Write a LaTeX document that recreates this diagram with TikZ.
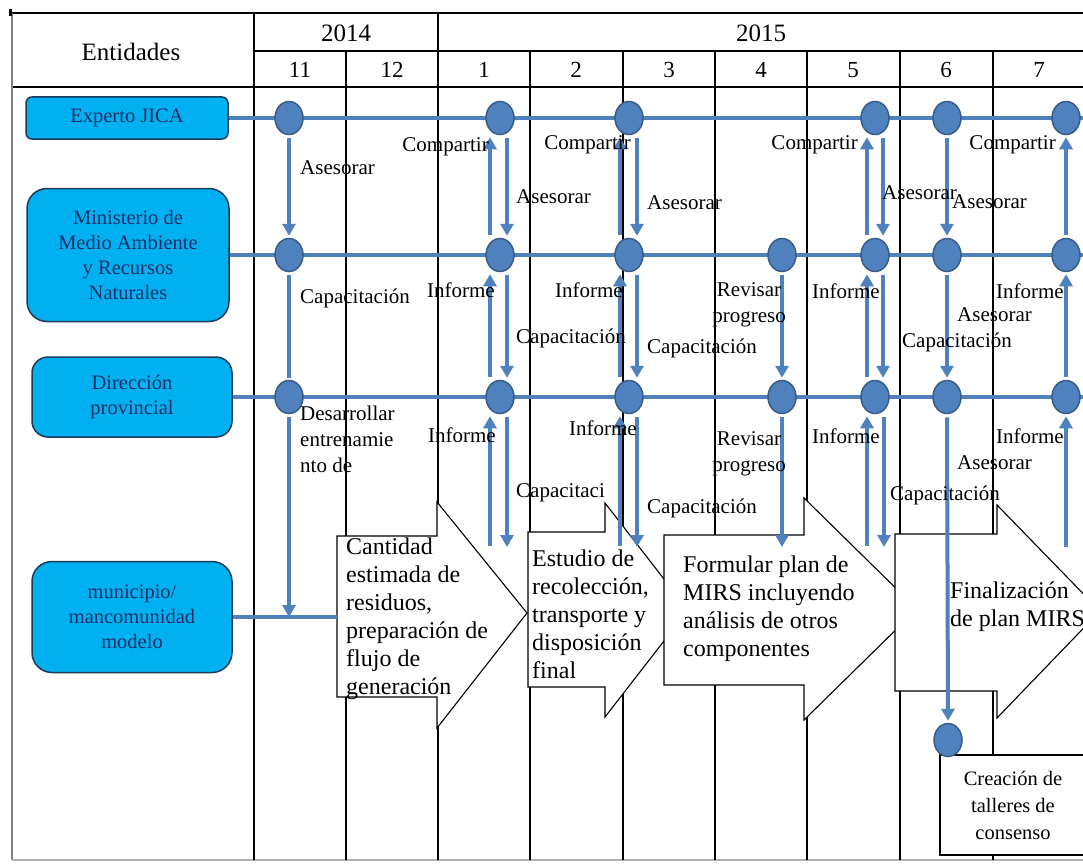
\documentclass[tikz,border=0pt]{standalone}
\usepackage{fontspec}
\setmainfont{LiberationSerif}[Extension=.ttf, UprightFont=*-Regular, ItalicFont=*-Italic, BoldFont=*-Bold, BoldItalicFont=*-BoldItalic]
\usetikzlibrary{arrows.meta,shapes.geometric,calc}
\definecolor{blueline}{HTML}{4F81BD}
\definecolor{nodefill}{HTML}{4F81BD}
\definecolor{nodeborder}{HTML}{385D8A}
\definecolor{entfill}{HTML}{00B0F0}
\definecolor{entborder}{HTML}{1F3B5A}
\definecolor{enttext}{HTML}{1F2F6A}
\newcommand\myLbl{\fontsize{21}{25}\selectfont}
\newcommand\myHdr{\fontsize{25}{30}\selectfont}
\newcommand\myMon{\fontsize{23}{28}\selectfont}
\newcommand\myEnt{\fontsize{20.5}{25}\selectfont}
\newcommand\myArr{\fontsize{24}{28}\selectfont}
\newcommand\myCre{\fontsize{20.5}{27}\selectfont}
\tikzset{
  gridline/.style={line width=1.1pt, draw=black},
  rowline/.style={line width=4pt, draw=blueline},
  ev/.style={ellipse, minimum width=28pt, minimum height=33pt, inner sep=0pt, fill=nodefill, draw=nodeborder, line width=1.5pt},
  flow/.style={line width=4pt, draw=blueline, -{Triangle[width=13pt,length=12pt]}, shorten <=3pt, shorten >=2pt},
  plainv/.style={line width=4pt, draw=blueline, shorten <=3pt, shorten >=2pt},
  lbl/.style={font=\myLbl, inner sep=0pt},
  hdr/.style={font=\myHdr, inner sep=0pt},
  mon/.style={font=\myMon, inner sep=0pt},
  ent/.style={draw=entborder, fill=entfill, line width=1.5pt, text=enttext, font=\myEnt, align=center, inner sep=0pt},
  callout/.style={draw=black, fill=white, line width=1.1pt},
  ctext/.style={font=\myArr, align=left, anchor=north west, inner sep=0pt},
  crebox/.style={draw=black, fill=white, line width=1.1pt, font=\myCre, align=center, inner sep=0pt}
}
\begin{document}
\begin{tikzpicture}[x=1pt,y=-1pt]
\useasboundingbox (0,0) rectangle (1083,864);
\clip (0,0) rectangle (1083,864);

% ---------- table grid ----------
\draw[gridline] (11,13) -- (1090,13);
\draw[gridline] (254,51) -- (1090,51);
\draw[gridline] (12,87) -- (1090,87);
\draw[line width=1.1pt, draw=gray] (12,13) -- (12,860);
\draw[line width=1.1pt, draw=gray!60] (12,860) -- (1090,860);
\draw[gridline] (254,13) -- (254,860);
\draw[gridline] (438,13) -- (438,860);
\foreach \x in {346,530,623,715,807,900,993} \draw[gridline] (\x,51) -- (\x,860);
\draw[line width=2.2pt] (10.5,9) -- (10.5,16);

% ---------- headers ----------
\node[hdr] (hEnt) at (131,52) {Entidades};
\node[hdr] (h2014) at (346,33) {2014};
\node[hdr] (h2015) at (761,33) {2015};
\node[mon] (m-11) at (300,70) {11};
\node[mon] (m-12) at (392,70) {12};
\node[mon] (m-1) at (484,70) {1};
\node[mon] (m-2) at (576,70) {2};
\node[mon] (m-3) at (669,70) {3};
\node[mon] (m-4) at (761,70) {4};
\node[mon] (m-5) at (853,70) {5};
\node[mon] (m-6) at (946,70) {6};
\node[mon] (m-7) at (1039,70) {7};

% ---------- callout arrows ----------
\draw[callout] (337,536) -- (437,536) -- (437,502) -- (527,613) -- (437,728) -- (437,697) -- (337,697) -- cycle;
\node[ctext] (t1) at (346,538) {Cantidad\\estimada de\\residuos,\\preparación de\\flujo de\\generación};
\draw[callout] (528,532) -- (605,532) -- (605,503) -- (688,610) -- (605,717) -- (605,687) -- (528,687) -- cycle;
\node[ctext] (t2) at (532,550) {Estudio de\\recolección,\\transporte y\\disposición\\final};
\draw[callout] (664,535) -- (804,535) -- (804,498) -- (917,609) -- (804,720) -- (804,685) -- (664,685) -- cycle;
\node[ctext] (t3) at (683,556) {Formular plan de\\MIRS incluyendo\\análisis de otros\\componentes};
\draw[callout] (895,534) -- (997,534) -- (997,505) -- (1100,611) -- (997,718) -- (997,691) -- (895,691) -- cycle;
\node[ctext] (t4) at (950,582) {Finalización\\de plan MIRS};
\node[crebox, minimum width=146pt, minimum height=100pt] (crea) at (1013,805) {Creación de\\talleres de\\consenso};

% ---------- entity boxes ----------
\node[ent, minimum width=202pt, minimum height=42pt, rounded corners=6pt] (ejica) at (127,118) {Experto JICA};
\node[ent, minimum width=202pt, minimum height=133pt, rounded corners=20pt] (emin) at (128,255) {Ministerio de\\Medio Ambiente\\y Recursos\\Naturales};
\node[ent, minimum width=200pt, minimum height=80pt, rounded corners=16pt] (edir) at (132,397) {Dirección\\provincial};
\node[ent, minimum width=200pt, minimum height=111pt, rounded corners=20pt] (emun) at (132,617) {municipio/\\mancomunidad\\modelo};

% ---------- row lines ----------
\coordinate (jend) at (1090,118);
\coordinate (mend) at (1090,255);
\coordinate (dend) at (1090,397);
\coordinate (a1w) at (337,617);
\draw[rowline] (ejica.east) -- (jend);
\draw[rowline] (emin.east) -- (mend);
\draw[rowline] (edir.east) -- (dend);
\draw[rowline] (emun.east) -- (a1w);

% ---------- event nodes ----------
\foreach \n/\x in {11/289,1/500,3/629,5/875,6/947,7/1066} \node[ev] (j\n) at (\x,118) {};
\foreach \n/\x in {11/289,1/500,3/629,4/782,5/875,6/947,7/1066} \node[ev] (m\n) at (\x,255) {};
\foreach \n/\x in {11/289,1/500,3/629,4/782,5/875,6/947,7/1066} \node[ev] (d\n) at (\x,397) {};
\node[ev] (c6) at (948,740) {};

% free ends
\coordinate (mu11) at (289,619);
\coordinate (b1) at (500,549);
\coordinate (b3) at (629,549);
\coordinate (b4) at (782,549);
\coordinate (b5) at (875,549);
\coordinate (b7) at (1066,550);

% ---------- vertical arrows: JICA - Ministerio ----------
\draw[flow] (j11.south) -- (m11.north);
\draw[flow] ([xshift=-10pt]m1.north) -- ([xshift=-10pt]j1.south);
\draw[flow] ([xshift=7pt]j1.south) -- ([xshift=7pt]m1.north);
\draw[flow] ([xshift=-9pt]m3.north) -- ([xshift=-9pt]j3.south);
\draw[flow] ([xshift=8pt]j3.south) -- ([xshift=8pt]m3.north);
\draw[flow] ([xshift=-8pt]m5.north) -- ([xshift=-8pt]j5.south);
\draw[flow] ([xshift=8pt]j5.south) -- ([xshift=8pt]m5.north);
\draw[flow] (j6.south) -- (m6.north);
\draw[flow] (m7.north) -- (j7.south);

% ---------- Ministerio - Direccion ----------
\draw[plainv] (m11.south) -- (d11.north);
\draw[flow] ([xshift=-10pt]d1.north) -- ([xshift=-10pt]m1.south);
\draw[flow] ([xshift=7pt]m1.south) -- ([xshift=7pt]d1.north);
\draw[flow] ([xshift=-9pt]d3.north) -- ([xshift=-9pt]m3.south);
\draw[flow] ([xshift=8pt]m3.south) -- ([xshift=8pt]d3.north);
\draw[flow] (m4.south) -- (d4.north);
\draw[flow] ([xshift=-8pt]d5.north) -- ([xshift=-8pt]m5.south);
\draw[flow] ([xshift=8pt]m5.south) -- ([xshift=8pt]d5.north);
\draw[flow] (m6.south) -- (d6.north);
\draw[flow] (d7.north) -- (m7.south);

% ---------- below Direccion ----------
\draw[flow] (d11.south) -- (mu11);
\draw[flow] ([xshift=-10pt]b1) -- ([xshift=-10pt]d1.south);
\draw[flow] ([xshift=7pt]d1.south) -- ([xshift=7pt]b1);
\draw[flow] ([xshift=-9pt]b3) -- ([xshift=-9pt]d3.south);
\draw[flow] ([xshift=8pt]d3.south) -- ([xshift=8pt]b3);
\draw[flow] (d4.south) -- (b4);
\draw[flow] ([xshift=-8pt]b5) -- ([xshift=-8pt]d5.south);
\draw[flow] ([xshift=9pt]d5.south) -- ([xshift=9pt]b5);
\draw[flow] (d6.south) -- (c6.north);
\draw[flow] (b7) -- (d7.south);

% ---------- labels ----------
\node[lbl, anchor=west] (la1) at (300,168) {Asesorar};
\node[lbl, anchor=west] (la2) at (300,298) {Capacitación};
\node[lbl, anchor=west, align=left, font={\fontsize{21}{26}\selectfont}] (la3) at (300,439) {Desarrollar\\entrenamie\\nto de};

\node[lbl, anchor=east] (lb1) at (489,147) {Compartir};
\node[lbl, anchor=west] (lb2) at (516,197) {Asesorar};
\node[lbl, anchor=east] (lb3) at (495,290) {Informe};
\node[lbl, anchor=west] (lb4) at (516,338) {Capacitación};
\node[lbl, anchor=east] (lb5) at (496,435) {Informe};
\node[lbl, anchor=west] (lb6) at (516,493) {Capacitaci};

\node[lbl, anchor=east] (lc1) at (631,145) {Compartir};
\node[lbl, anchor=west] (lc2) at (647,203) {Asesorar};
\node[lbl, anchor=east] (lc3) at (623,290) {Informe};
\node[lbl, anchor=west] (lc4) at (647,348) {Capacitación};
\node[lbl, anchor=east] (lc5) at (637,428) {Informe};
\node[lbl, anchor=west] (lc6) at (647,508) {Capacitación};

\node[lbl, align=center, font={\fontsize{21}{26}\selectfont}] (ld1) at (749,305) {Revisar\\progreso};
\node[lbl, align=center, font={\fontsize{21}{26}\selectfont}] (ld2) at (749,454) {Revisar\\progreso};

\node[lbl, anchor=east] (le1) at (858,145) {Compartir};
\node[lbl, anchor=west] (le2) at (882,193) {Asesorar};
\node[lbl, anchor=east] (le3) at (880,291) {Informe};
\node[lbl, anchor=east] (le4) at (880,436) {Informe};

\node[lbl, anchor=west] (lf1) at (952,202) {Asesorar};
\node[lbl, anchor=west] (lf2) at (957,315) {Asesorar};
\node[lbl, anchor=west] (lf3) at (902,342) {Capacitación};
\node[lbl, anchor=west] (lf4) at (957,463) {Asesorar};
\node[lbl, anchor=west] (lf5) at (890,495) {Capacitación};

\node[lbl, anchor=east] (lg1) at (1056,145) {Compartir};
\node[lbl, anchor=east] (lg2) at (1064,291) {Informe};
\node[lbl, anchor=east] (lg3) at (1064,436) {Informe};
\end{tikzpicture}
\end{document}
